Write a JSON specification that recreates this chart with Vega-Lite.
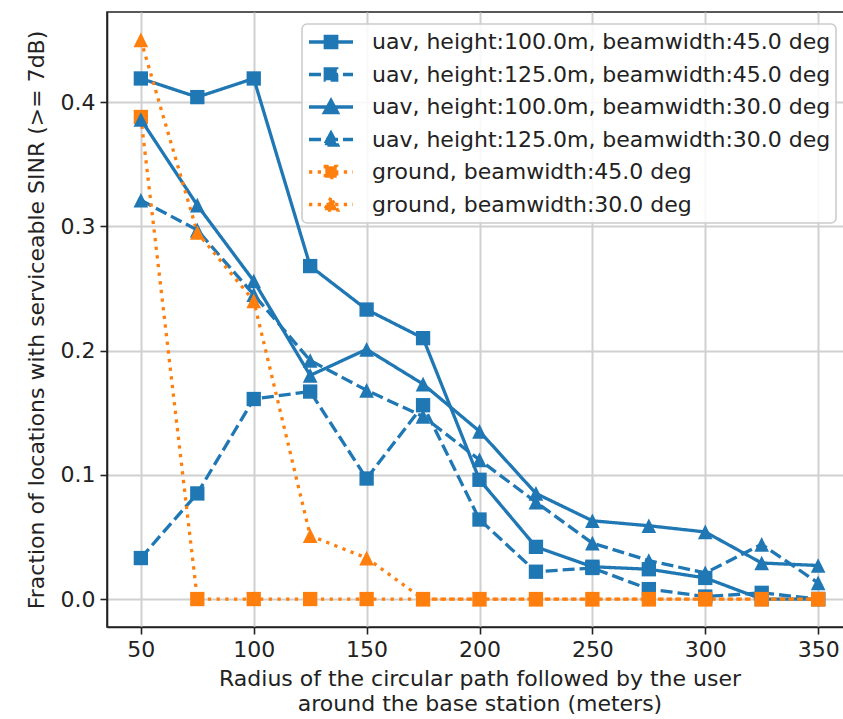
{
  "$schema": "https://vega.github.io/schema/vega-lite/v6.json",
  "autosize": {"type": "none"},
  "width": 745,
  "height": 615,
  "padding": {"left": 107, "top": 12, "right": 0, "bottom": 92},
  "background": "white",
  "config": {
    "font": "DejaVu Sans",
    "view": {"stroke": "#222222", "strokeWidth": 1.6},
    "axis": {
      "labelFont": "DejaVu Sans",
      "labelFontSize": 22,
      "labelColor": "#222222",
      "titleFont": "DejaVu Sans",
      "titleFontSize": 22,
      "titleFontWeight": "normal",
      "titleColor": "#222222",
      "tickSize": 7,
      "tickWidth": 1.6,
      "tickColor": "#222222",
      "domainColor": "#222222",
      "domainWidth": 1.6,
      "grid": true,
      "gridColor": "#d0d0d0",
      "gridWidth": 2
    },
    "legend": {
      "orient": "none", "legendX": 195, "legendY": 12,
      "labelFont": "DejaVu Sans", "labelFontSize": 22, "labelLimit": 800, "labelColor": "#222222",
      "symbolSize": 1936, "symbolStrokeWidth": 3.3, "symbolOpacity": 1,
      "clipHeight": 26, "rowPadding": 6.5, "padding": 5, "labelOffset": 17, "symbolOffset": 0,
      "strokeColor": "#cccccc", "fillColor": "rgba(255,255,255,0.85)", "cornerRadius": 5
    }
  },
  "datasets": {
    "sinr": [
      {"r": 50, "frac": 0.419, "series": "uav, height:100.0m, beamwidth:45.0 deg"},
      {"r": 75, "frac": 0.404, "series": "uav, height:100.0m, beamwidth:45.0 deg"},
      {"r": 100, "frac": 0.419, "series": "uav, height:100.0m, beamwidth:45.0 deg"},
      {"r": 125, "frac": 0.268, "series": "uav, height:100.0m, beamwidth:45.0 deg"},
      {"r": 150, "frac": 0.233, "series": "uav, height:100.0m, beamwidth:45.0 deg"},
      {"r": 175, "frac": 0.210, "series": "uav, height:100.0m, beamwidth:45.0 deg"},
      {"r": 200, "frac": 0.096, "series": "uav, height:100.0m, beamwidth:45.0 deg"},
      {"r": 225, "frac": 0.042, "series": "uav, height:100.0m, beamwidth:45.0 deg"},
      {"r": 250, "frac": 0.026, "series": "uav, height:100.0m, beamwidth:45.0 deg"},
      {"r": 275, "frac": 0.024, "series": "uav, height:100.0m, beamwidth:45.0 deg"},
      {"r": 300, "frac": 0.017, "series": "uav, height:100.0m, beamwidth:45.0 deg"},
      {"r": 325, "frac": 0.0, "series": "uav, height:100.0m, beamwidth:45.0 deg"},
      {"r": 350, "frac": 0.0, "series": "uav, height:100.0m, beamwidth:45.0 deg"},

      {"r": 50, "frac": 0.033, "series": "uav, height:125.0m, beamwidth:45.0 deg"},
      {"r": 75, "frac": 0.085, "series": "uav, height:125.0m, beamwidth:45.0 deg"},
      {"r": 100, "frac": 0.161, "series": "uav, height:125.0m, beamwidth:45.0 deg"},
      {"r": 125, "frac": 0.167, "series": "uav, height:125.0m, beamwidth:45.0 deg"},
      {"r": 150, "frac": 0.097, "series": "uav, height:125.0m, beamwidth:45.0 deg"},
      {"r": 175, "frac": 0.156, "series": "uav, height:125.0m, beamwidth:45.0 deg"},
      {"r": 200, "frac": 0.064, "series": "uav, height:125.0m, beamwidth:45.0 deg"},
      {"r": 225, "frac": 0.022, "series": "uav, height:125.0m, beamwidth:45.0 deg"},
      {"r": 250, "frac": 0.025, "series": "uav, height:125.0m, beamwidth:45.0 deg"},
      {"r": 275, "frac": 0.008, "series": "uav, height:125.0m, beamwidth:45.0 deg"},
      {"r": 300, "frac": 0.002, "series": "uav, height:125.0m, beamwidth:45.0 deg"},
      {"r": 325, "frac": 0.005, "series": "uav, height:125.0m, beamwidth:45.0 deg"},
      {"r": 350, "frac": 0.0, "series": "uav, height:125.0m, beamwidth:45.0 deg"},

      {"r": 50, "frac": 0.386, "series": "uav, height:100.0m, beamwidth:30.0 deg"},
      {"r": 75, "frac": 0.317, "series": "uav, height:100.0m, beamwidth:30.0 deg"},
      {"r": 100, "frac": 0.256, "series": "uav, height:100.0m, beamwidth:30.0 deg"},
      {"r": 125, "frac": 0.180, "series": "uav, height:100.0m, beamwidth:30.0 deg"},
      {"r": 150, "frac": 0.201, "series": "uav, height:100.0m, beamwidth:30.0 deg"},
      {"r": 175, "frac": 0.173, "series": "uav, height:100.0m, beamwidth:30.0 deg"},
      {"r": 200, "frac": 0.135, "series": "uav, height:100.0m, beamwidth:30.0 deg"},
      {"r": 225, "frac": 0.085, "series": "uav, height:100.0m, beamwidth:30.0 deg"},
      {"r": 250, "frac": 0.063, "series": "uav, height:100.0m, beamwidth:30.0 deg"},
      {"r": 275, "frac": 0.059, "series": "uav, height:100.0m, beamwidth:30.0 deg"},
      {"r": 300, "frac": 0.054, "series": "uav, height:100.0m, beamwidth:30.0 deg"},
      {"r": 325, "frac": 0.029, "series": "uav, height:100.0m, beamwidth:30.0 deg"},
      {"r": 350, "frac": 0.027, "series": "uav, height:100.0m, beamwidth:30.0 deg"},

      {"r": 50, "frac": 0.321, "series": "uav, height:125.0m, beamwidth:30.0 deg"},
      {"r": 75, "frac": 0.297, "series": "uav, height:125.0m, beamwidth:30.0 deg"},
      {"r": 100, "frac": 0.245, "series": "uav, height:125.0m, beamwidth:30.0 deg"},
      {"r": 125, "frac": 0.192, "series": "uav, height:125.0m, beamwidth:30.0 deg"},
      {"r": 150, "frac": 0.168, "series": "uav, height:125.0m, beamwidth:30.0 deg"},
      {"r": 175, "frac": 0.147, "series": "uav, height:125.0m, beamwidth:30.0 deg"},
      {"r": 200, "frac": 0.112, "series": "uav, height:125.0m, beamwidth:30.0 deg"},
      {"r": 225, "frac": 0.078, "series": "uav, height:125.0m, beamwidth:30.0 deg"},
      {"r": 250, "frac": 0.045, "series": "uav, height:125.0m, beamwidth:30.0 deg"},
      {"r": 275, "frac": 0.031, "series": "uav, height:125.0m, beamwidth:30.0 deg"},
      {"r": 300, "frac": 0.021, "series": "uav, height:125.0m, beamwidth:30.0 deg"},
      {"r": 325, "frac": 0.044, "series": "uav, height:125.0m, beamwidth:30.0 deg"},
      {"r": 350, "frac": 0.013, "series": "uav, height:125.0m, beamwidth:30.0 deg"},

      {"r": 50, "frac": 0.388, "series": "ground, beamwidth:45.0 deg"},
      {"r": 75, "frac": 0.0, "series": "ground, beamwidth:45.0 deg"},
      {"r": 100, "frac": 0.0, "series": "ground, beamwidth:45.0 deg"},
      {"r": 125, "frac": 0.0, "series": "ground, beamwidth:45.0 deg"},
      {"r": 150, "frac": 0.0, "series": "ground, beamwidth:45.0 deg"},
      {"r": 175, "frac": 0.0, "series": "ground, beamwidth:45.0 deg"},
      {"r": 200, "frac": 0.0, "series": "ground, beamwidth:45.0 deg"},
      {"r": 225, "frac": 0.0, "series": "ground, beamwidth:45.0 deg"},
      {"r": 250, "frac": 0.0, "series": "ground, beamwidth:45.0 deg"},
      {"r": 275, "frac": 0.0, "series": "ground, beamwidth:45.0 deg"},
      {"r": 300, "frac": 0.0, "series": "ground, beamwidth:45.0 deg"},
      {"r": 325, "frac": 0.0, "series": "ground, beamwidth:45.0 deg"},
      {"r": 350, "frac": 0.0, "series": "ground, beamwidth:45.0 deg"},

      {"r": 50, "frac": 0.450, "series": "ground, beamwidth:30.0 deg"},
      {"r": 75, "frac": 0.295, "series": "ground, beamwidth:30.0 deg"},
      {"r": 100, "frac": 0.240, "series": "ground, beamwidth:30.0 deg"},
      {"r": 125, "frac": 0.051, "series": "ground, beamwidth:30.0 deg"},
      {"r": 150, "frac": 0.033, "series": "ground, beamwidth:30.0 deg"},
      {"r": 175, "frac": 0.0, "series": "ground, beamwidth:30.0 deg"},
      {"r": 200, "frac": 0.0, "series": "ground, beamwidth:30.0 deg"},
      {"r": 225, "frac": 0.0, "series": "ground, beamwidth:30.0 deg"},
      {"r": 250, "frac": 0.0, "series": "ground, beamwidth:30.0 deg"},
      {"r": 275, "frac": 0.0, "series": "ground, beamwidth:30.0 deg"},
      {"r": 300, "frac": 0.0, "series": "ground, beamwidth:30.0 deg"},
      {"r": 325, "frac": 0.0, "series": "ground, beamwidth:30.0 deg"},
      {"r": 350, "frac": 0.0, "series": "ground, beamwidth:30.0 deg"}
    ]
  },
  "data": {"name": "sinr"},
  "encoding": {
    "x": {
      "field": "r",
      "type": "quantitative",
      "scale": {"domain": [35, 365], "nice": false, "zero": false},
      "axis": {
        "values": [50, 100, 150, 200, 250, 300, 350],
        "labelPadding": 5,
        "titlePadding": 8,
        "titleLineHeight": 25,
        "title": ["Radius of the circular path followed by the user", "around the base station (meters)"]
      }
    },
    "y": {
      "field": "frac",
      "type": "quantitative",
      "scale": {"domain": [-0.0225, 0.4725], "nice": false, "zero": false},
      "axis": {
        "values": [0, 0.1, 0.2, 0.3, 0.4],
        "format": ".1f",
        "labelPadding": 5,
        "titlePadding": 12,
        "title": "Fraction of locations with serviceable SINR (>= 7dB)"
      }
    }
  },
  "layer": [
    {
      "mark": {"type": "line", "strokeWidth": 3.3, "strokeCap": "butt", "opacity": 1},
      "encoding": {
        "color": {
          "field": "series", "type": "nominal", "title": null,
          "scale": {
            "domain": ["uav, height:100.0m, beamwidth:45.0 deg", "uav, height:125.0m, beamwidth:45.0 deg", "uav, height:100.0m, beamwidth:30.0 deg", "uav, height:125.0m, beamwidth:30.0 deg", "ground, beamwidth:45.0 deg", "ground, beamwidth:30.0 deg"],
            "range": ["#1f77b4", "#1f77b4", "#1f77b4", "#1f77b4", "#ff7f0e", "#ff7f0e"]
          }
        },
        "strokeDash": {
          "field": "series", "type": "nominal", "title": null,
          "scale": {
            "domain": ["uav, height:100.0m, beamwidth:45.0 deg", "uav, height:125.0m, beamwidth:45.0 deg", "uav, height:100.0m, beamwidth:30.0 deg", "uav, height:125.0m, beamwidth:30.0 deg", "ground, beamwidth:45.0 deg", "ground, beamwidth:30.0 deg"],
            "range": [[1, 0], [12, 5], [1, 0], [12, 5], [3.3, 5.4], [3.3, 5.4]]
          }
        }
      }
    },
    {
      "transform": [{"filter": "indexof(datum.series, '45.0 deg') >= 0"}],
      "mark": {"type": "point", "filled": true, "opacity": 1, "shape": "square", "size": 205},
      "encoding": {"color": {"field": "series", "type": "nominal", "title": null}}
    },
    {
      "transform": [{"filter": "indexof(datum.series, '30.0 deg') >= 0"}],
      "mark": {"type": "point", "filled": true, "opacity": 1, "shape": "M0,-1L-1,1L1,1Z", "size": 215},
      "encoding": {"color": {"field": "series", "type": "nominal", "title": null}}
    },
    {
      "transform": [{"filter": "false"}],
      "mark": {"type": "point", "filled": true, "opacity": 1},
      "encoding": {
        "color": {
          "field": "series", "type": "nominal", "title": null,
          "legend": {
            "encode": {
              "symbols": {"update": {
                "fill": {"scale": "color", "field": "value"},
                "stroke": {"scale": "color", "field": "value"},
                "strokeDash": {"scale": "strokeDash", "field": "value"},
                "strokeWidth": {"value": 3.3}
              }},
              "legend": {"update": {"strokeWidth": {"value": 1.6}}}
            }
          }
        },
        "shape": {
          "field": "series", "type": "nominal", "title": null,
          "scale": {
            "domain": ["uav, height:100.0m, beamwidth:45.0 deg", "uav, height:125.0m, beamwidth:45.0 deg", "uav, height:100.0m, beamwidth:30.0 deg", "uav, height:125.0m, beamwidth:30.0 deg", "ground, beamwidth:45.0 deg", "ground, beamwidth:30.0 deg"],
            "range": [
              "M-1,0H1M-0.26,-0.26H0.26V0.26H-0.26Z",
              "M-1,0H1M-0.26,-0.26H0.26V0.26H-0.26Z",
              "M-1,0H1M0,-0.3L-0.3,0.26L0.3,0.26Z",
              "M-1,0H1M0,-0.3L-0.3,0.26L0.3,0.26Z",
              "M-1,0H1M-0.26,-0.26H0.26V0.26H-0.26Z",
              "M-1,0H1M0,-0.3L-0.3,0.26L0.3,0.26Z"
            ]
          }
        }
      }
    }
  ]
}
